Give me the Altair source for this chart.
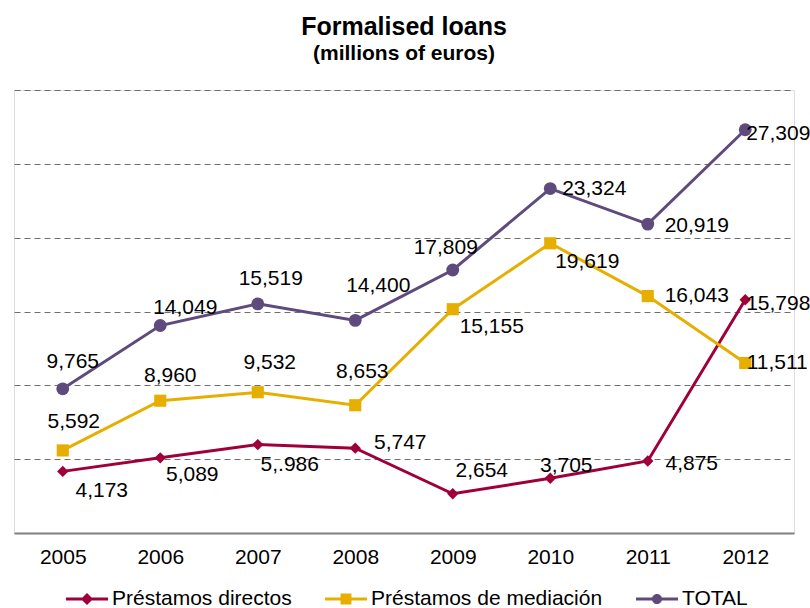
import altair as alt
import pandas as pd

# ---------------- data ----------------
years = ["2005", "2006", "2007", "2008", "2009", "2010", "2011", "2012"]
series_names = ["Préstamos directos", "Préstamos de mediación", "TOTAL"]
directos = [4173, 5089, 5986, 5747, 2654, 3705, 4875, 15798]
mediacion = [5592, 8960, 9532, 8653, 15155, 19619, 16043, 11511]
total = [9765, 14049, 15519, 14400, 17809, 23324, 20919, 27309]
directos_text = ["4,173", "5,089", "5,.986", "5,747", "2,654", "3,705", "4,875", "15,798"]
mediacion_text = ["5,592", "8,960", "9,532", "8,653", "15,155", "19,619", "16,043", "11,511"]
total_text = ["9,765", "14,049", "15,519", "14,400", "17,809", "23,324", "20,919", "27,309"]
y_ticks = [5000, 10000, 15000, 20000, 25000, 30000]

# ---------------- styling / layout ----------------
colors = ["#A0003A", "#E6AF00", "#5F4A7E"]
marker_shapes = ["diamond", "square", "circle"]
marker_sizes = [130, 165, 115]
legend_paths = [
    "M-1,-0.07 L1,-0.07 L1,0.07 L-1,0.07 Z M0,-0.29 L0.29,0 L0,0.29 L-0.29,0 Z",
    "M-1,-0.07 L1,-0.07 L1,0.07 L-1,0.07 Z M-0.26,-0.26 L0.26,-0.26 L0.26,0.26 L-0.26,0.26 Z",
    "M-1,-0.07 L1,-0.07 L1,0.07 L-1,0.07 Z M-0.24,0 A0.24,0.24 0 1,1 0.24,0 A0.24,0.24 0 1,1 -0.24,0 Z",
]
# label offsets in pixels
directos_dx = [39, 32, 32, 45, 29, 16, 44, 33]
directos_dy = [20, 17, 20, -5, -23, -12, 3, 4]
mediacion_dx = [11, 10, 12, 7, 39, 37, 49, 32]
mediacion_dy = [-28, -25, -29, -33, 18, 19, 0, 0]
total_dx = [10, 25, 13, 23, -7, 44, 49, 33]
total_dy = [-27, -18, -25, -34, -22, 0, 2, 4]

FONT = "Liberation Sans"
FS = 21

rows = []
for name, vals, texts, dxs, dys in [
    (series_names[0], directos, directos_text, directos_dx, directos_dy),
    (series_names[1], mediacion, mediacion_text, mediacion_dx, mediacion_dy),
    (series_names[2], total, total_text, total_dx, total_dy),
]:
    for yr, v, t, dx, dy in zip(years, vals, texts, dxs, dys):
        rows.append({"year": yr, "value": v, "series": name, "label": t, "dx": dx, "dy": dy})
df = pd.DataFrame(rows)

x_enc = alt.X("year:O", sort=years,
              scale=alt.Scale(type="point", padding=0.5),
              axis=alt.Axis(title=None, labelAngle=0, ticks=False, labelFontSize=FS,
                            labelFont=FONT, labelColor="black", labelPadding=13,
                            domainColor="#808080", domainWidth=2, grid=False))
y_enc = alt.Y("value:Q", scale=alt.Scale(domain=[0, 30000], nice=False, zero=True),
              axis=alt.Axis(title=None, values=y_ticks, labels=False, ticks=False,
                            domain=False, grid=True, gridDash=[6, 4],
                            gridColor="#6f6f6f", gridWidth=1))
color_scale = alt.Scale(domain=series_names, range=colors)

base = alt.Chart(df)

lines = base.mark_line(strokeWidth=3).encode(
    x=x_enc, y=y_enc,
    color=alt.Color("series:N", scale=color_scale, legend=None),
    detail="series:N",
)

pts = base.mark_point(filled=True, opacity=1).encode(
    x=x_enc, y=y_enc,
    color=alt.Color("series:N", scale=color_scale, legend=None),
    shape=alt.Shape("series:N", scale=alt.Scale(domain=series_names, range=marker_shapes), legend=None),
    size=alt.Size("series:N", scale=alt.Scale(domain=series_names, range=marker_sizes), legend=None),
)

legend_props = dict(title=None, orient="none", legendX=52, legendY=488,
                    direction="horizontal", symbolSize=1764,
                    symbolOpacity=1, symbolStrokeWidth=0,
                    labelFontSize=FS, labelFont=FONT, labelColor="black",
                    labelOffset=4, columnPadding=33, padding=0, labelLimit=400)

legend_layer = base.mark_point(filled=True, opacity=0).encode(
    x=x_enc, y=y_enc,
    color=alt.Color("series_leg:N", scale=alt.Scale(domain=series_names, range=colors),
                    legend=alt.Legend(**legend_props)),
    shape=alt.Shape("series_leg:N",
                    scale=alt.Scale(domain=series_names, range=legend_paths),
                    legend=alt.Legend(**legend_props)),
).transform_calculate(series_leg="datum.series")

label_layers = []
for d in sorted(set(df["dy"])):
    label_layers.append(
        base.transform_filter(alt.datum.dy == int(d)).mark_text(
            fontSize=FS, font=FONT, color="black", align="center",
            baseline="middle", dy=int(d)).encode(
            x=x_enc, y=y_enc,
            xOffset=alt.XOffset("dx:Q", scale=None),
            text="label:N",
        )
    )

chart = alt.layer(lines, pts, legend_layer, *label_layers).resolve_scale(
    shape="independent", color="independent"
).properties(
    width=780, height=443,
    title=alt.TitleParams("Formalised loans", subtitle="(millions of euros)",
                          font=FONT, subtitleFont=FONT, fontSize=25, subtitleFontSize=21,
                          fontWeight="bold", subtitleFontWeight="bold", color="black",
                          subtitleColor="black", anchor="middle", offset=26,
                          subtitlePadding=3),
    autosize=alt.AutoSizeParams(type="none"),
    padding={"left": 14, "top": 90, "right": 16, "bottom": 75},
).configure_view(stroke=None).configure(background="white")

chart.save("out.html", embed_options={"renderer": "svg", "actions": False})
